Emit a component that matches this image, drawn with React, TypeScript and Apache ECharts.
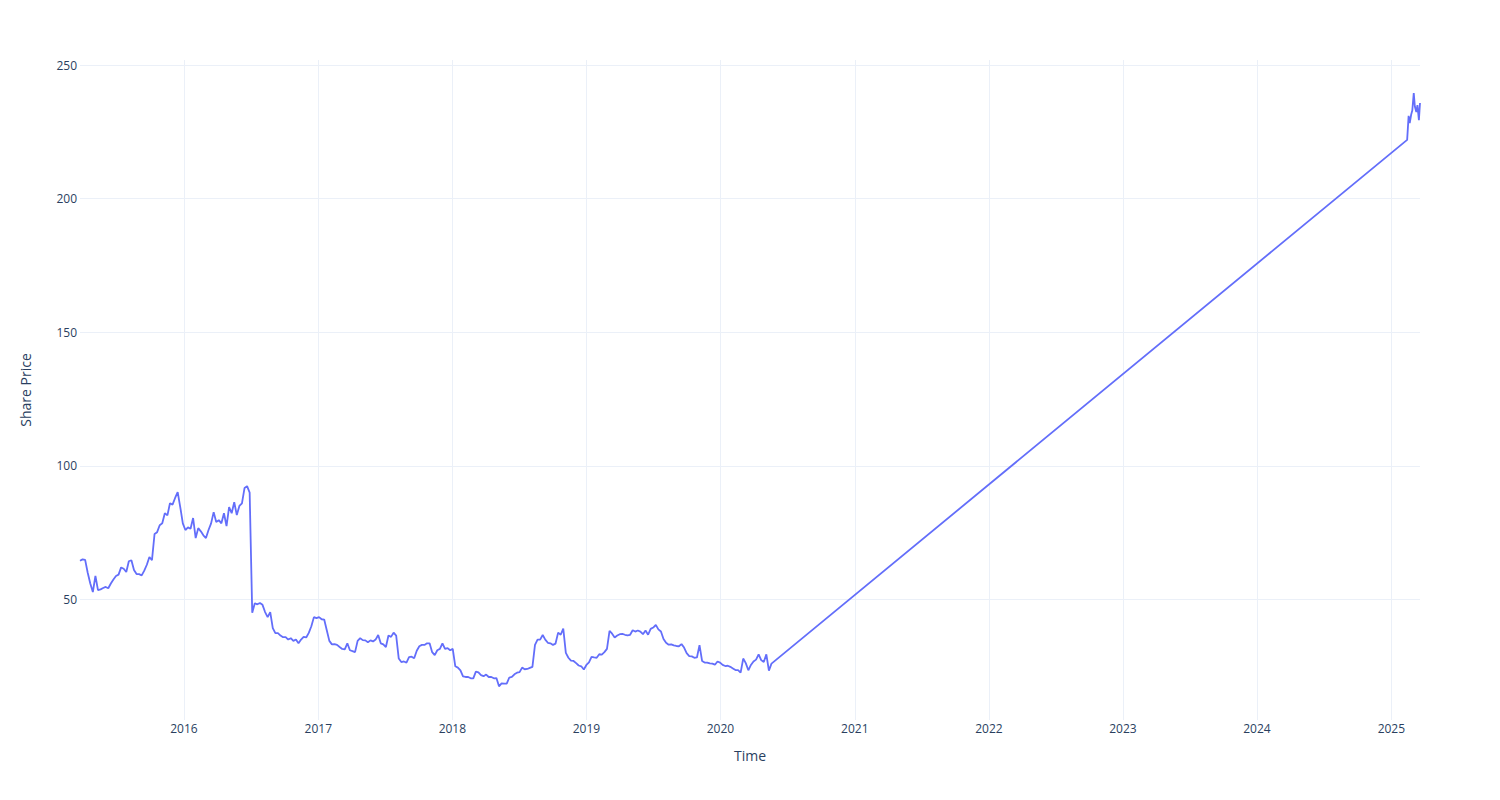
import React, { useEffect, useRef } from "react";
import * as echarts from "echarts";

// Weekly closing prices starting 2015-03-24
const weeklyStart: [number, number, number] = [2015, 2, 24];
const weeklyPrices = [
  64.5, 65, 64.8, 60, 56, 52.8, 58.8, 53.5, 53.8, 54.3,
  54.7, 54.2, 56, 57.5, 58.8, 59.3, 62, 61.5, 60.3, 64.3,
  64.7, 61, 59.5, 59.5, 59, 60.8, 63, 65.9, 64.7, 74.5,
  75.2, 77.8, 78.5, 82.3, 81.5, 86, 85.5, 88, 90.2, 84.6,
  78.5, 76, 77, 76.5, 80.5, 73, 76.7, 75.5, 74, 73,
  76, 78.5, 82.7, 79, 79.7, 78.5, 82.3, 77.5, 84.6, 82.3,
  86.4, 81.6, 85, 86, 91.7, 92.4, 90, 45, 48.6, 48.2,
  48.7, 48, 45.3, 43.4, 45.3, 39.3, 37.4, 37.4, 36.5, 35.9,
  35.9, 35, 35.5, 34.5, 35, 33.6, 35, 36, 35.8, 37.5,
  40, 43.4, 43, 43.4, 42.6, 42.5, 38.5, 34.5, 33.2, 33.3,
  33, 32.2, 31.5, 31.3, 33.6, 31, 30.7, 30.3, 34.5, 35.5,
  34.8, 34.7, 34, 34.7, 34.3, 35, 36.7, 33.6, 33.2, 32.2,
  36.5, 36, 37.6, 36.5, 27.9, 26.6, 26.8, 26.4, 28.4, 28.6,
  28, 30.8, 32.5, 33, 33, 33.6, 33.6, 30.3, 29.2, 31,
  31.5, 33.6, 31.5, 31.8, 31, 31.5, 25, 24.5, 23.5, 21.2,
  21, 21, 20.5, 20.5, 23, 22.7, 21.7, 21.3, 21.9, 21,
  21, 20.5, 20.6, 17.5, 18.6, 18.5, 18.5, 20.8, 21, 22,
  22.6, 22.8, 24.5, 23.9, 24, 24.4, 24.8, 33, 35, 35,
  36.7, 35, 33.8, 33.6, 33, 33.5, 37.6, 36.8, 39.1, 30,
  28.2, 27.1, 27, 26.2, 25.3, 25, 23.8, 25.5, 26.5, 28.5,
  28.3, 28.2, 29.5, 29.4, 30.3, 31.5, 38.3, 37.2, 35.8, 36.5,
  37, 37.1, 36.8, 36.6, 36.8, 38.5, 38, 38.4, 38, 37,
  38.4, 36.8, 39, 39.5, 40.5, 38.8, 38, 35.2, 33.8, 33.1,
  33.2, 32.8, 32.6, 32.5, 33.3, 32, 29.9, 28.8, 28.7, 28.2,
  28.3, 32.9, 27, 26.4, 26.4, 26.1, 26, 25.6, 26.8, 26.4,
  25.5, 25.1, 25.2, 24.8, 24.2, 23.6, 23.6, 22.6, 27.9, 26.2,
  23.5, 25.5, 26.8, 27.5, 29.5, 27.3, 26.6, 29.5, 23.4, 26,
];

// Recent prices (2025)
const recentDates = [
  "2025-02-13", "2025-02-17", "2025-02-20", "2025-02-24", "2025-02-27",
  "2025-03-03", "2025-03-06", "2025-03-10", "2025-03-13", "2025-03-17", "2025-03-20",
];
const recentPrices = [222, 231, 228.3, 231.5, 233, 239.5, 234.5, 232.4, 235, 229.4, 235.8];

const xYearTicks = [2016, 2017, 2018, 2019, 2020, 2021, 2022, 2023, 2024, 2025];
const yTickValues = [50, 100, 150, 200, 250];
const yMin = 4.9;
const yMax = 251.9;

const TEXT = "#2a3f5f";
const GRID = "#ebf0f8";
const FONT = '"Open Sans", verdana, arial, sans-serif';

export default function App() {
  const ref = useRef<HTMLDivElement>(null);
  useEffect(() => {
    const chart = echarts.init(ref.current!, null, { renderer: "svg" });
    const DAY = 86400000;
    const t0 = new Date(weeklyStart[0], weeklyStart[1], weeklyStart[2]).getTime();
    const data: [number, number][] = weeklyPrices.map((v, i) => [t0 + i * 7 * DAY, v]);
    recentDates.forEach((d, i) => {
      const [y, m, dd] = d.split("-").map(Number);
      data.push([new Date(y, m - 1, dd).getTime(), recentPrices[i]]);
    });
    const tMin = data[0][0];
    const tMax = data[data.length - 1][0];
    chart.setOption({
      animation: false,
      backgroundColor: "#ffffff",
      textStyle: { fontFamily: FONT },
      grid: { left: 80, right: 80, top: 60, bottom: 80, containLabel: false },
      xAxis: {
        type: "time",
        min: tMin,
        max: tMax,
        splitNumber: 10,
        minInterval: 365 * DAY,
        maxInterval: 366 * DAY,
        name: "Time",
        nameLocation: "middle",
        nameGap: 28,
        nameTextStyle: { color: TEXT, fontSize: 14, fontFamily: FONT },
        axisLine: { show: false },
        axisTick: { show: false },
        axisLabel: {
          color: TEXT,
          fontSize: 12,
          fontFamily: FONT,
          margin: 2,
          showMinLabel: false,
          showMaxLabel: false,
          formatter: (v: number) => String(new Date(v).getFullYear()),
        },
        splitLine: { show: false },
      },
      yAxis: {
        type: "value",
        min: yMin,
        max: yMax,
        name: "Share Price",
        nameLocation: "middle",
        nameGap: 48,
        nameTextStyle: { color: TEXT, fontSize: 14, fontFamily: FONT },
        axisLine: { show: false },
        axisTick: { show: false, customValues: yTickValues },
        axisLabel: {
          color: TEXT,
          fontSize: 12,
          fontFamily: FONT,
          margin: 3,
          customValues: yTickValues,
        },
        splitLine: { show: true, lineStyle: { color: GRID, width: 1 } },
      },
      series: [
        {
          type: "line",
          data: [],
          z: 0,
          silent: true,
          markLine: {
            z: 0,
            silent: true,
            symbol: ["none", "none"],
            label: { show: false },
            lineStyle: { color: GRID, width: 1, type: "solid" },
            emphasis: { disabled: true },
            data: xYearTicks.map((y) => ({ xAxis: new Date(y, 0, 1).getTime() })),
          },
        },
        {
          type: "line",
          data,
          z: 3,
          showSymbol: false,
          symbol: "none",
          lineStyle: { color: "#636efa", width: 1.8 },
          itemStyle: { color: "#636efa" },
        },
      ],
    });
    return () => chart.dispose();
  }, []);
  return (
    <div
      ref={ref}
      style={{ position: "fixed", left: 0, top: 0, width: 1500, height: 800 }}
    />
  );
}
